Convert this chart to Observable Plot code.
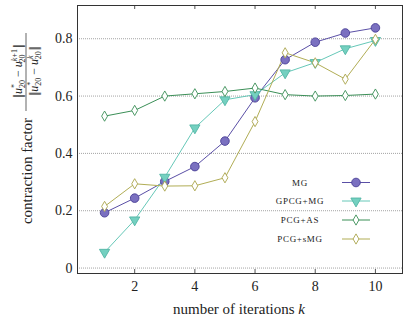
<!DOCTYPE html>
<html><head><meta charset="utf-8">
<script src="https://cdn.jsdelivr.net/npm/d3@7"></script>
<script src="https://cdn.jsdelivr.net/npm/@observablehq/plot@0.6"></script>
<style>html,body{margin:0;padding:0;background:#fff;overflow:hidden}
svg text{font-family:"Liberation Serif",serif !important}</style>
</head><body><div id="chart"></div>
<script>
const iterations = [1, 2, 3, 4, 5, 6, 7, 8, 9, 10];
const seriesNames = ["MG", "GPCG+MG", "PCG+AS", "PCG+sMG"];
const mgValues    = [0.193, 0.244, 0.302, 0.354, 0.443, 0.594, 0.727, 0.788, 0.820, 0.838];
const gpcgValues  = [0.055, 0.168, 0.317, 0.489, 0.587, 0.605, 0.681, 0.717, 0.765, 0.794];
const pcgAsValues = [0.530, 0.550, 0.600, 0.608, 0.616, 0.628, 0.605, 0.600, 0.602, 0.607];
const pcgSmgValues= [0.215, 0.294, 0.286, 0.287, 0.315, 0.511, 0.751, 0.716, 0.659, 0.798];
const xTicks = [2, 4, 6, 8, 10];
const yTicks = [0, 0.2, 0.4, 0.6, 0.8];

const FONT = "Liberation Serif";
const styles = [
  {line: "#5a4fa6", fill: "#7a70c0", stroke: "#4a3f96", symbol: "circle", r: 4.3, rotate: 0},
  {line: "#66c8b8", fill: "#74d0c0", stroke: "#52b5a5", symbol: "triangle", r: 3.8, rotate: 180},
  {line: "#3b8f57", fill: "#ffffff", stroke: "#3b8f57", symbol: "diamond", r: 3.1, rotate: 0},
  {line: "#b1ad55", fill: "#ffffff", stroke: "#aaa54c", symbol: "diamond", r: 3.1, rotate: 0}
];
const allValues = [mgValues, gpcgValues, pcgAsValues, pcgSmgValues];
const series = seriesNames.map((name, i) => iterations.map((k, j) => ({k, v: allValues[i][j], s: name})));

const W = 407, H = 324, mL = 77, mR = 5, mT = 5, mB = 51;
const fh = H - mT - mB;

const marks = [
  Plot.gridY(yTicks, {stroke: "#9a9a9a", strokeOpacity: 1, strokeDasharray: "1,1", strokeWidth: 0.9}),
  Plot.tickX(xTicks, {x: d => d, stroke: "#555", insetTop: fh - 4}),
  Plot.tickX(xTicks, {x: d => d, stroke: "#555", insetBottom: fh - 4}),
  Plot.axisX(xTicks, {tickSize: 0, tickPadding: 8, fontSize: 14, label: null}),
  Plot.axisY(yTicks, {tickSize: 0, tickPadding: 5, fontSize: 14, label: null,
    tickFormat: d => d === 0 ? "0" : d3.format(".1f")(d)})
];
series.forEach((data, i) => {
  const st = styles[i];
  marks.push(Plot.line(data, {x: "k", y: "v", stroke: st.line, strokeWidth: 1}));
});
series.forEach((data, i) => {
  const st = styles[i];
  marks.push(Plot.dot(data, {x: "k", y: "v", symbol: st.symbol, r: st.r, rotate: st.rotate,
    fill: st.fill, stroke: st.stroke, strokeWidth: 0.9}));
});
marks.push(Plot.frame({stroke: "#333", strokeWidth: 1}));

const plot = Plot.plot({
  width: W, height: H, marginLeft: mL, marginRight: mR, marginTop: mT, marginBottom: mB,
  style: {fontFamily: FONT, fontSize: "14px", color: "#222", background: "#fff"},
  x: {domain: [0.1, 10.9]},
  y: {domain: [-0.019, 0.916]},
  marks
});
document.getElementById("chart").appendChild(plot);

const svg = d3.select(plot);
// x label
const xl = svg.append("text").attr("x", 239).attr("y", 314).attr("text-anchor", "middle")
  .attr("font-size", 15).attr("fill", "#222");
xl.append("tspan").text("number of iterations ");
xl.append("tspan").attr("font-style", "italic").text("k");

// y label (rotated)
const g = svg.append("g").attr("transform", "translate(32,0) rotate(-90)").attr("fill", "#222");
g.append("text").attr("x", -171).attr("y", 0).attr("text-anchor", "middle").attr("font-size", 15).text("contraction factor");
const fx = -72;
g.append("line").attr("x1", fx - 39).attr("x2", fx + 39).attr("y1", -6).attr("y2", -6)
  .attr("stroke", "#222").attr("stroke-width", 0.7);
function fracPart(y, supText) {
  const t = g.append("text").attr("x", fx).attr("y", y).attr("text-anchor", "middle").attr("font-size", 12);
  t.append("tspan").attr("letter-spacing", "-1.8").text("|||");
  t.append("tspan").attr("dx", 2).attr("font-style", "italic").text("u");
  t.append("tspan").attr("font-size", 8).attr("dy", -5).text("*");
  t.append("tspan").attr("font-size", 8).attr("dx", -4).attr("dy", 8).text("20");
  t.append("tspan").attr("dy", -3).text(" − ");
  t.append("tspan").attr("font-style", "italic").text("u");
  const sup = t.append("tspan").attr("font-size", 8).attr("dy", -5);
  sup.append("tspan").attr("font-style", "italic").text(supText[0]);
  if (supText.length > 1) sup.append("tspan").text(supText.slice(1));
  const supW = supText.length > 1 ? 13.5 : 4;
  t.append("tspan").attr("font-size", 8).attr("dx", -supW).attr("dy", 8).text("20");
  t.append("tspan").attr("dx", Math.max(1, supW - 7)).attr("dy", -3).attr("letter-spacing", "-1.8").text("|||");
}
fracPart(-10, "k+1");
fracPart(6, "k");

// legend
const legY = [182.5, 201, 220, 239];
seriesNames.forEach((name, i) => {
  const st = styles[i];
  svg.append("text").attr("x", 300).attr("y", legY[i]).attr("dy", "0.35em")
    .attr("text-anchor", "middle").attr("font-size", 9)
    .attr("letter-spacing", "0.7").attr("fill", "#222").text(name);
  svg.append("line").attr("x1", 342).attr("x2", 370).attr("y1", legY[i]).attr("y2", legY[i])
    .attr("stroke", st.line).attr("stroke-width", 1);
  const symType = st.symbol === "circle" ? d3.symbolCircle : st.symbol === "triangle" ? d3.symbolTriangle : d3.symbolDiamond;
  svg.append("path").attr("d", d3.symbol(symType, Math.PI * st.r * st.r)())
    .attr("transform", `translate(356,${legY[i]}) rotate(${st.rotate})`)
    .attr("fill", st.fill).attr("stroke", st.stroke).attr("stroke-width", 0.9);
});
</script></body></html>
